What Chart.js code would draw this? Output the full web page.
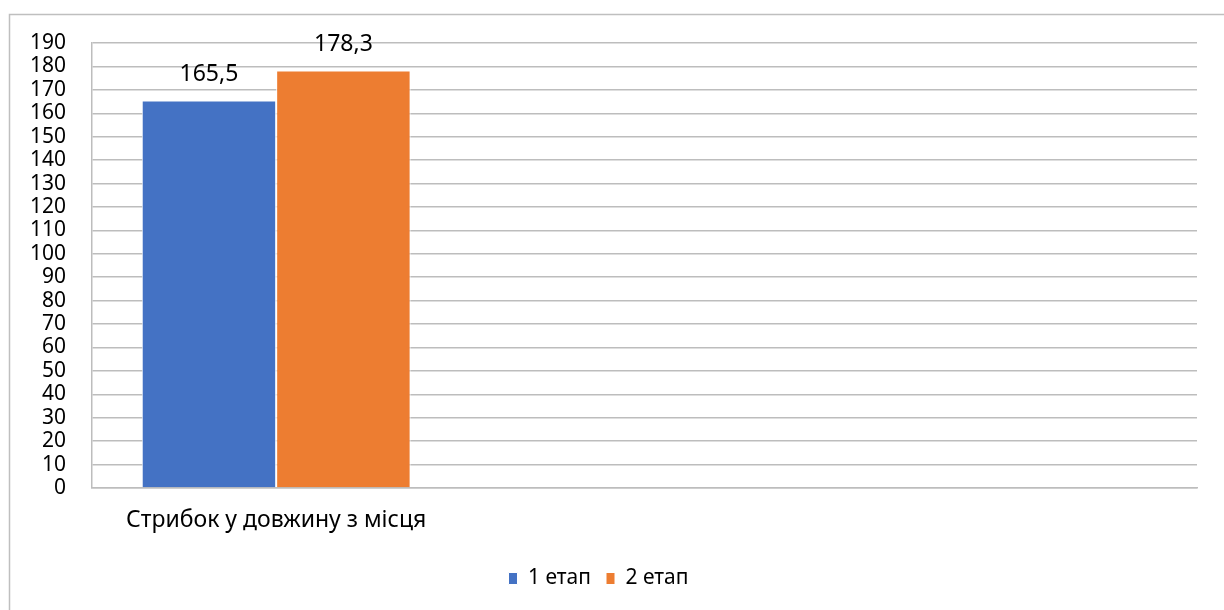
<!DOCTYPE html>
<html>
<head>
<meta charset="utf-8">
<script src="https://cdn.jsdelivr.net/npm/chart.js@4/dist/chart.umd.min.js"></script>
<style>
  html, body { margin: 0; padding: 0; background: #fff; }
  #wrap { position: relative; width: 1224px; height: 610px; }
</style>
</head>
<body>
<div id="wrap"><canvas id="chart" width="1224" height="610"></canvas></div>
<script>
  // data
  const categories = ['Стрибок у довжину з місця', '', ''];
  const seriesNames = ['1 етап', '2 етап'];
  const stage1 = [165.5, null, null];
  const stage2 = [178.3, null, null];
  const yMax = 190;
  const yStep = 10;

  const FONT = "'Noto Sans', 'Liberation Sans', sans-serif";
  const GRID = '#bdbdbd';

  function fmt(v) {
    return String(v).replace('.', ',');
  }

  const frame = {
    id: 'frame',
    beforeDraw(chart) {
      const ctx = chart.ctx;
      ctx.save();
      ctx.fillStyle = '#fff';
      ctx.fillRect(0, 0, chart.width, chart.height);
      ctx.strokeStyle = '#bfbfbf';
      ctx.lineWidth = 1.5;
      ctx.strokeRect(9.5, 14.5, 1240, 620);
      ctx.restore();
    }
  };

  const valueLabels = {
    id: 'valueLabels',
    afterDatasetsDraw(chart) {
      const ctx = chart.ctx;
      ctx.save();
      ctx.font = '23px ' + FONT;
      ctx.fillStyle = '#000';
      ctx.textAlign = 'center';
      ctx.textBaseline = 'middle';
      chart.data.datasets.forEach((ds, i) => {
        chart.getDatasetMeta(i).data.forEach((bar, j) => {
          const v = ds.data[j];
          if (v == null) return;
          ctx.fillText(fmt(v), bar.x, bar.y - 26);
        });
      });
      ctx.restore();
    }
  };

  new Chart(document.getElementById('chart'), {
    type: 'bar',
    data: {
      labels: categories,
      datasets: [{
        label: seriesNames[0],
        data: stage1,
        backgroundColor: '#4472c4',
        borderColor: '#ffffff',
        borderWidth: 1,
      }, {
        label: seriesNames[1],
        data: stage2,
        backgroundColor: '#ed7d31',
        borderColor: '#ffffff',
        borderWidth: 1,
      }]
    },
    options: {
      responsive: false,
      animation: false,
      layout: { padding: { top: 43, right: 27, bottom: 11, left: 0 } },
      datasets: {
        bar: { categoryPercentage: 0.73, barPercentage: 1 }
      },
      scales: {
        x: {
          grid: { display: false, drawTicks: false },
          border: { color: GRID, width: 1.5 },
          ticks: {
            color: '#000',
            font: { family: FONT, size: 23 },
            padding: 19,
            maxRotation: 0,
          },
          afterFit(scale) { scale.height = 65; }
        },
        y: {
          min: 0,
          max: yMax,
          grid: { color: GRID, lineWidth: 1.5, drawTicks: false },
          border: { color: GRID, width: 1.5 },
          ticks: {
            stepSize: yStep,
            autoSkip: false,
            color: '#000',
            font: { family: FONT, size: 21 },
            padding: 26,
          },
          afterFit(scale) { scale.width = 92; }
        }
      },
      plugins: {
        legend: {
          position: 'bottom',
          labels: {
            color: '#000',
            font: { family: FONT, size: 21 },
            boxWidth: 9,
            boxHeight: 12,
            padding: 15,
          }
        },
        tooltip: { enabled: false }
      }
    },
    plugins: [frame, valueLabels]
  });
</script>
</body>
</html>
